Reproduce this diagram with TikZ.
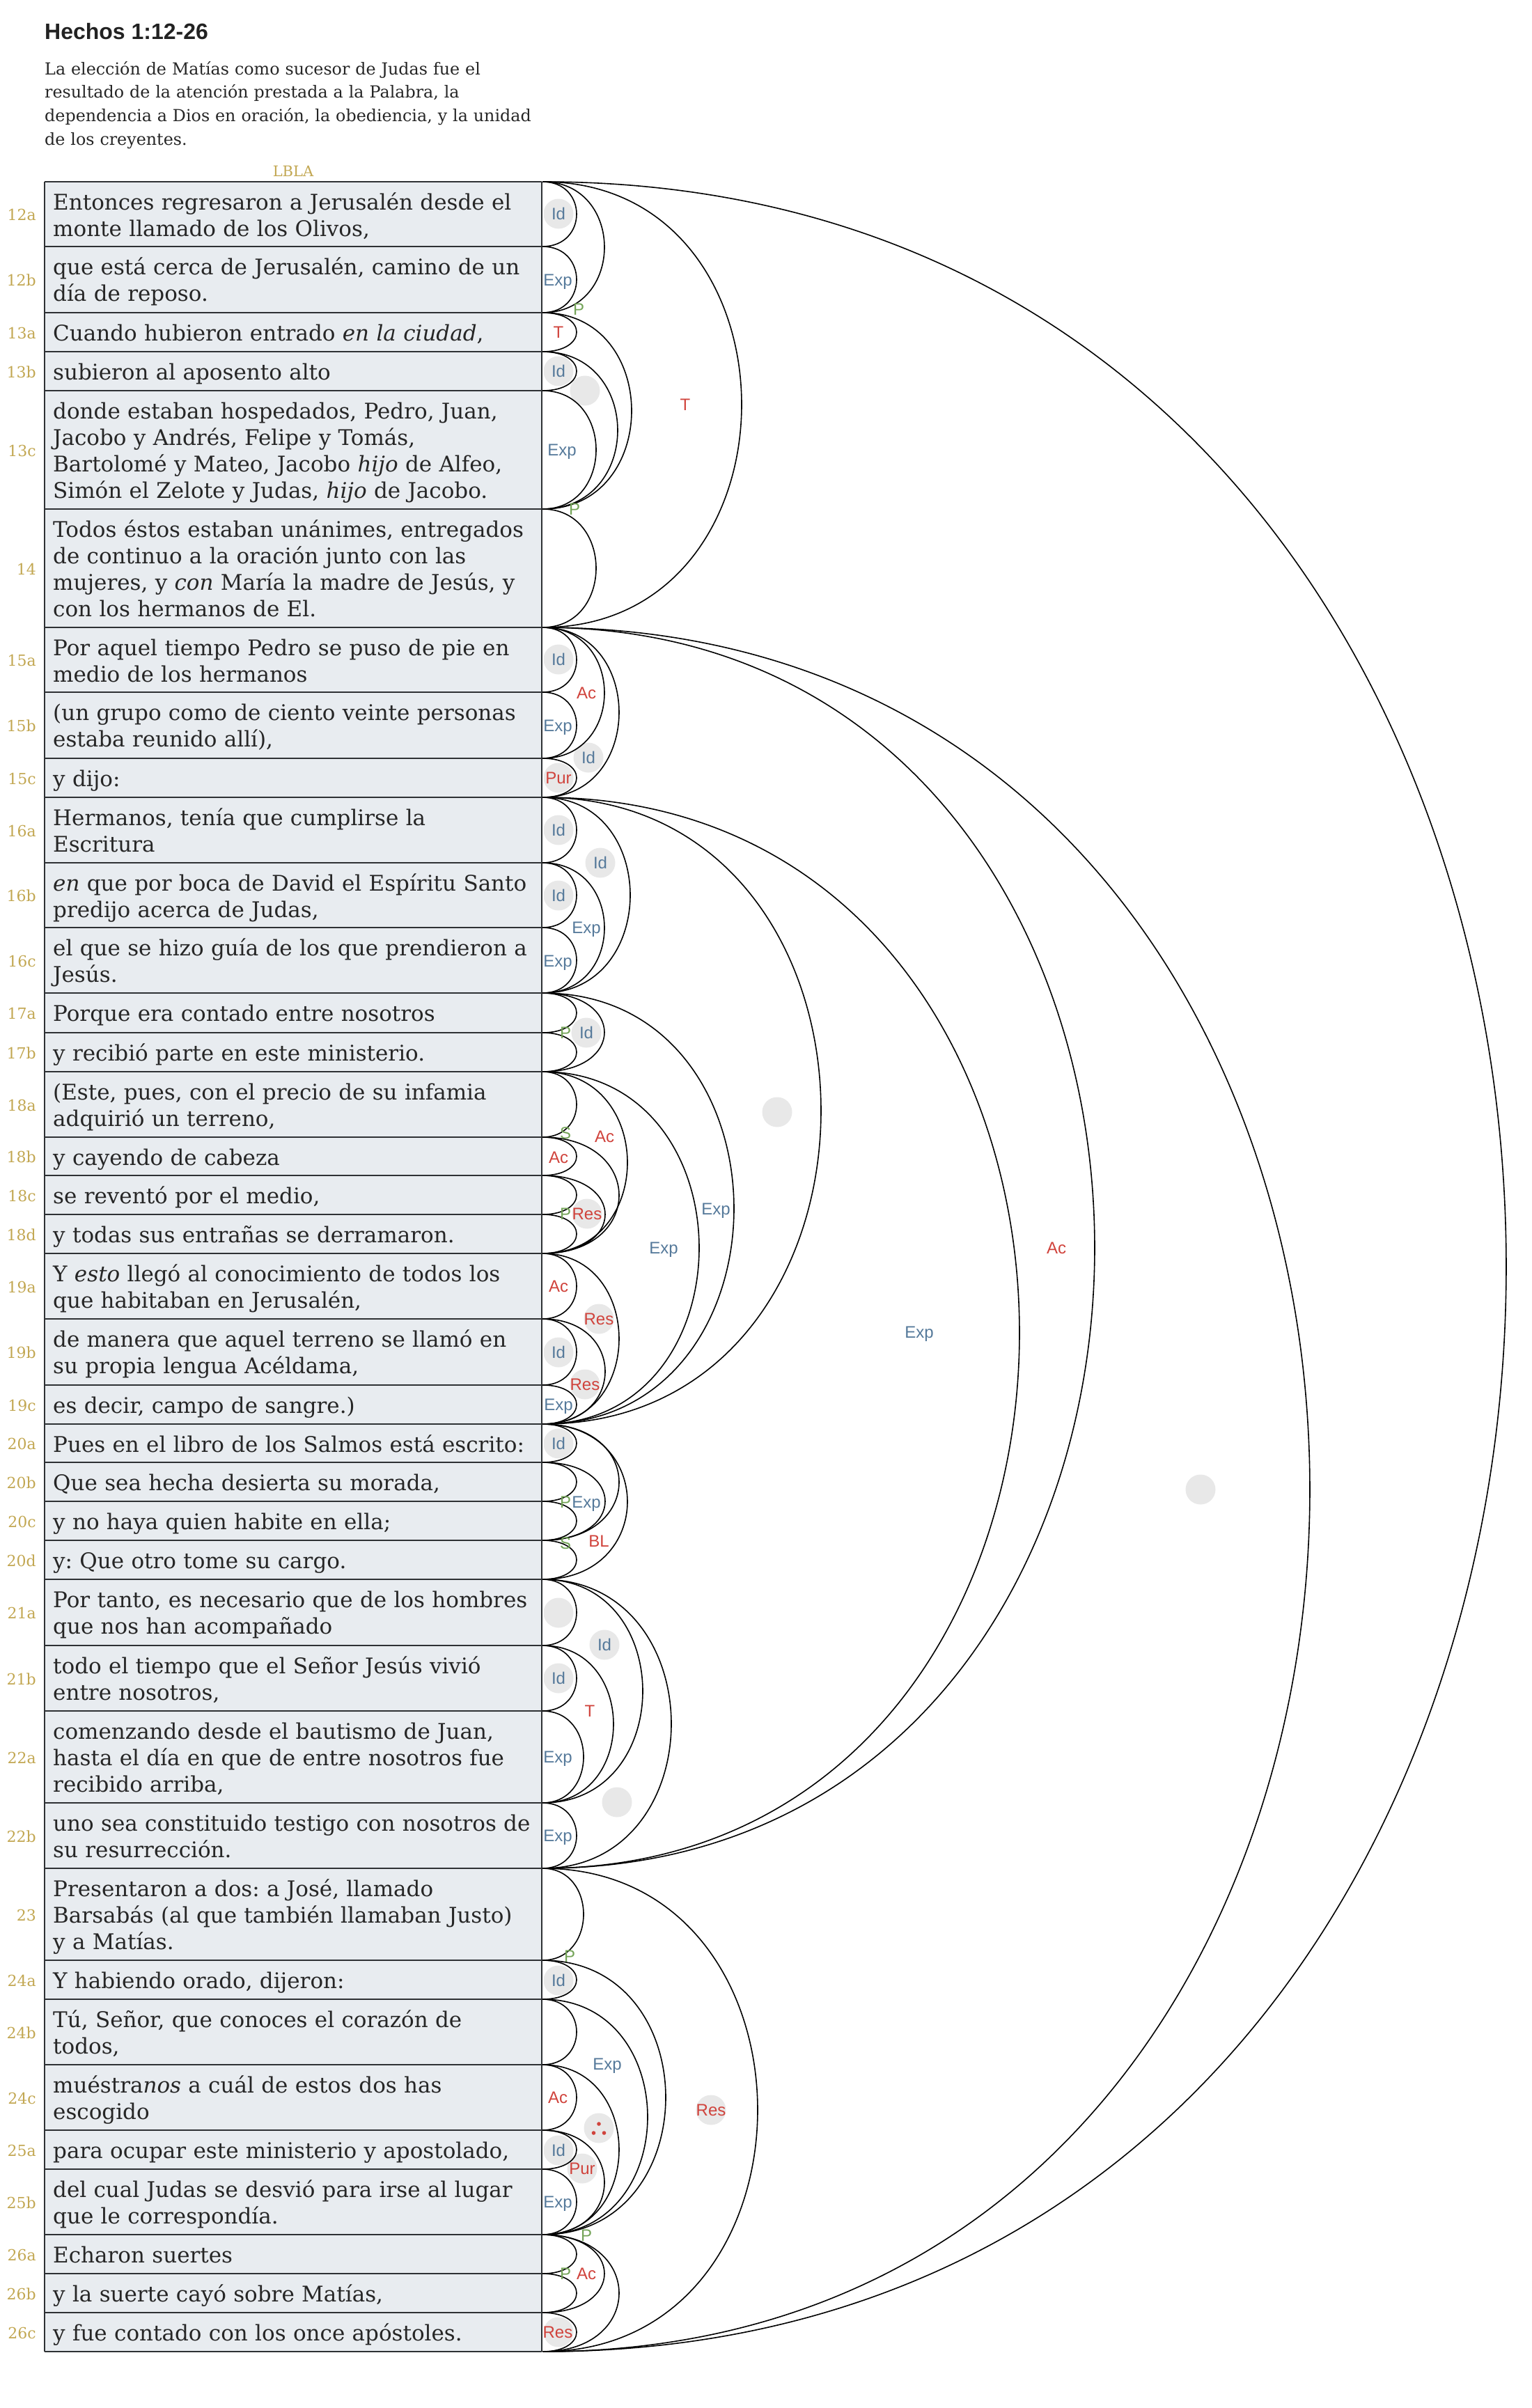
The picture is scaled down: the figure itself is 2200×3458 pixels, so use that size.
\documentclass[tikz,border=0pt]{standalone}
\usepackage{fontspec}
\setmainfont{DejaVu Serif}
\newfontfamily\labfont{Liberation Sans}
\newfontfamily\serfont{DejaVu Serif}
\frenchspacing
\definecolor{cFill}{HTML}{E8ECF0}
\definecolor{cLine}{HTML}{2E3134}
\definecolor{cText}{HTML}{262626}
\definecolor{cHead}{HTML}{222222}
\definecolor{cGold}{HTML}{C2A752}
\definecolor{cBlue}{HTML}{55799A}
\definecolor{cRed}{HTML}{D0433C}
\definecolor{cGreen}{HTML}{74A458}
\definecolor{cGrey}{HTML}{E8E8E8}
\begin{document}
\begin{tikzpicture}[x=1pt,y=-1pt,
  rowtext/.style={anchor=base west, inner sep=0pt, text width=740pt, align=left, text=cText, font=\fontsize{31}{38}\selectfont},
  vnum/.style={anchor=base east, inner sep=0pt, text=cGold, font=\serfont\fontsize{22}{24}\selectfont},
  lab/.style={inner sep=0pt, anchor=center, text height=17pt, text depth=0pt, font=\labfont\fontsize{24}{25}\selectfont},
  labB/.style={lab, text=cBlue},
  labR/.style={lab, text=cRed},
  labG/.style={lab, text=cGreen},
  gc/.style={fill=cGrey, draw=none},
  arcline/.style={draw=black, line width=1.6pt},
  tline/.style={draw=cLine, line width=2.2pt}]
\useasboundingbox (0,0) rectangle (2200,3458);

% header
\node[anchor=base west, inner sep=0pt, text=cHead, font=\labfont\bfseries\fontsize{32}{35}\selectfont] (title) at (64,57) {Hechos 1:12-26};
\node[anchor=base west, inner sep=0pt, text width=800pt, align=left, text=cText, font=\fontsize{23.8}{33.8}\selectfont] (desc) at (64,107) {La elección de Matías como sucesor de Judas fue el\\resultado de la atención prestada a la Palabra, la\\dependencia a Dios en oración, la obediencia, y la unidad\\de los creyentes.};
\node[anchor=base, inner sep=0pt, text=cGold, font=\fontsize{21}{23}\selectfont] (lbla) at (421,253) {LBLA};

% table
\fill[cFill] (64,261) rectangle (778,3377);
\foreach \y [count=\i from 0] in {261,354,449,505,561,731,901,994,1089,1145,1239,1332,1426,1483,1539,1633,1688,1744,1800,1894,1989,2045,2100,2156,2212,2268,2363,2457,2589,2683,2815,2871,2965,3059,3115,3209,3265,3321,3377}{
  \coordinate (b\i) at (779,\y);
  \draw[tline] (64,\y) -- (778,\y);
}
\draw[tline] (64,261) -- (64,3377);
\draw[tline] (778,261) -- (778,3377);

% row texts
\node[rowtext] (t12a) at (76,301) {Entonces regresaron a Jerusalén desde el\\monte llamado de los Olivos,};
\node[rowtext] (t12b) at (76,394) {que está cerca de Jerusalén, camino de un\\día de reposo.};
\node[rowtext] (t13a) at (76,489) {Cuando hubieron entrado \textit{en la ciudad},};
\node[rowtext] (t13b) at (76,545) {subieron al aposento alto};
\node[rowtext] (t13c) at (76,601) {donde estaban hospedados, Pedro, Juan,\\Jacobo y Andrés, Felipe y Tomás,\\Bartolomé y Mateo, Jacobo \textit{hijo} de Alfeo,\\Simón el Zelote y Judas, \textit{hijo} de Jacobo.};
\node[rowtext] (t14) at (76,771) {Todos éstos estaban unánimes, entregados\\de continuo a la oración junto con las\\mujeres, y \textit{con} María la madre de Jesús, y\\con los hermanos de El.};
\node[rowtext] (t15a) at (76,941) {Por aquel tiempo Pedro se puso de pie en\\medio de los hermanos};
\node[rowtext] (t15b) at (76,1034) {(un grupo como de ciento veinte personas\\estaba reunido allí),};
\node[rowtext] (t15c) at (76,1129) {y dijo:};
\node[rowtext] (t16a) at (76,1185) {Hermanos, tenía que cumplirse la\\Escritura};
\node[rowtext] (t16b) at (76,1279) {\textit{en} que por boca de David el Espíritu Santo\\predijo acerca de Judas,};
\node[rowtext] (t16c) at (76,1372) {el que se hizo guía de los que prendieron a\\Jesús.};
\node[rowtext] (t17a) at (76,1466) {Porque era contado entre nosotros};
\node[rowtext] (t17b) at (76,1523) {y recibió parte en este ministerio.};
\node[rowtext] (t18a) at (76,1579) {(Este, pues, con el precio de su infamia\\adquirió un terreno,};
\node[rowtext] (t18b) at (76,1673) {y cayendo de cabeza};
\node[rowtext] (t18c) at (76,1728) {se reventó por el medio,};
\node[rowtext] (t18d) at (76,1784) {y todas sus entrañas se derramaron.};
\node[rowtext] (t19a) at (76,1840) {Y \textit{esto} llegó al conocimiento de todos los\\que habitaban en Jerusalén,};
\node[rowtext] (t19b) at (76,1934) {de manera que aquel terreno se llamó en\\su propia lengua Acéldama,};
\node[rowtext] (t19c) at (76,2029) {es decir, campo de sangre.)};
\node[rowtext] (t20a) at (76,2085) {Pues en el libro de los Salmos está escrito:};
\node[rowtext] (t20b) at (76,2140) {Que sea hecha desierta su morada,};
\node[rowtext] (t20c) at (76,2196) {y no haya quien habite en ella;};
\node[rowtext] (t20d) at (76,2252) {y: Que otro tome su cargo.};
\node[rowtext] (t21a) at (76,2308) {Por tanto, es necesario que de los hombres\\que nos han acompañado};
\node[rowtext] (t21b) at (76,2403) {todo el tiempo que el Señor Jesús vivió\\entre nosotros,};
\node[rowtext] (t22a) at (76,2497) {comenzando desde el bautismo de Juan,\\hasta el día en que de entre nosotros fue\\recibido arriba,};
\node[rowtext] (t22b) at (76,2629) {uno sea constituido testigo con nosotros de\\su resurrección.};
\node[rowtext] (t23) at (76,2723) {Presentaron a dos: a José, llamado\\Barsabás (al que también llamaban Justo)\\y a Matías.};
\node[rowtext] (t24a) at (76,2855) {Y habiendo orado, dijeron:};
\node[rowtext] (t24b) at (76,2911) {Tú, Señor, que conoces el corazón de\\todos,};
\node[rowtext] (t24c) at (76,3005) {muéstra\textit{nos} a cuál de estos dos has\\escogido};
\node[rowtext] (t25a) at (76,3099) {para ocupar este ministerio y apostolado,};
\node[rowtext] (t25b) at (76,3155) {del cual Judas se desvió para irse al lugar\\que le correspondía.};
\node[rowtext] (t26a) at (76,3249) {Echaron suertes};
\node[rowtext] (t26b) at (76,3305) {y la suerte cayó sobre Matías,};
\node[rowtext] (t26c) at (76,3361) {y fue contado con los once apóstoles.};

% verse numbers
\foreach \v/\y in {12a/316.5,12b/410.5,13a/486,13b/542,13c/655,14/825,15a/956.5,15b/1050.5,15c/1126,16a/1201,16b/1294.5,16c/1388,17a/1463.5,17b/1520,18a/1595,18b/1669.5,18c/1725,18d/1781,19a/1856,19b/1950.5,19c/2026,20a/2081.5,20b/2137,20c/2193,20d/2249,21a/2324.5,21b/2419,22a/2532,22b/2645,23/2758,24a/2852,24b/2927,24c/3021,25a/3096,25b/3171,26a/3246,26b/3302,26c/3358}{
  \node[vnum] (v\v) at (52,\y) {\v};
}

% grey circles (behind arcs)
\foreach \x/\y in {802/307,802/533,840/561,802/947,845/1088,802/1117,802/1192,862/1239,802/1286,842/1483,1116/1597,843/1743,860/1894,802/1942,840/1988,802/2073,802/2316,868/2362,802/2410,886/2588,802/2844,1724/2139,1021/3030,860/3056,802/3088,836/3114,802/3349}{
  \fill[gc] (\x,\y) circle[radius=21.5pt];
}

% arcs
\foreach \f/\t/\w in {0/1/49,1/2/49,2/3/49,3/4/49,4/5/77,5/6/77,6/7/49,7/8/49,8/9/49,9/10/49,10/11/49,11/12/49,12/13/49,13/14/49,14/15/49,15/16/49,16/17/49,17/18/49,18/19/49,19/20/49,20/21/49,21/22/49,22/23/49,23/24/49,24/25/49,25/26/49,26/27/49,27/28/59,28/29/49,29/30/59,30/31/49,31/32/49,32/33/49,33/34/49,34/35/49,35/36/49,36/37/49,37/38/49,
  0/2/89,3/5/108,2/5/128,0/6/286,6/8/89,6/9/110,10/12/89,9/12/126,12/14/89,16/18/90,15/18/110,14/18/122,19/21/90,18/21/110,14/21/225,12/21/275,9/21/400,22/24/90,21/24/110,21/25/122,26/28/102,25/28/144,25/29/185,9/29/685,6/29/793,33/35/89,32/35/110,31/35/151,30/35/177,35/37/89,35/38/110,29/38/309,6/38/1102,0/38/1384}{
  \draw[arcline] (b\f) .. controls +({\w*1.3333},0) and +({\w*1.3333},0) .. (b\t);
}

% red dots
\fill[cRed] (860,3050) circle[radius=2.8pt];
\fill[cRed] (852.5,3063) circle[radius=2.8pt];
\fill[cRed] (867.5,3063) circle[radius=2.8pt];

% leaf labels
\node[labB] (a12a) at (802,307) {Id};
\node[labB] (a12b) at (801,402) {Exp};
\node[labR] (a13a) at (802,477) {T};
\node[labB] (a13b) at (802,533) {Id};
\node[labB] (a13c) at (807,646) {Exp};
\node[labB] (a15a) at (802,947) {Id};
\node[labB] (a15b) at (801,1042) {Exp};
\node[labR] (a15c) at (802,1117) {Pur};
\node[labB] (a16a) at (802,1192) {Id};
\node[labB] (a16b) at (802,1286) {Id};
\node[labB] (a16c) at (801,1380) {Exp};
\node[labR] (a18b) at (802,1662) {Ac};
\node[labR] (a19a) at (802,1847) {Ac};
\node[labB] (a19b) at (802,1942) {Id};
\node[labB] (a19c) at (802,2017) {Exp};
\node[labB] (a20a) at (802,2073) {Id};
\node[labB] (a21b) at (802,2410) {Id};
\node[labB] (a22a) at (801,2523) {Exp};
\node[labB] (a22b) at (801,2636) {Exp};
\node[labB] (a24a) at (802,2844) {Id};
\node[labR] (a24c) at (801,3012) {Ac};
\node[labB] (a25a) at (802,3088) {Id};
\node[labB] (a25b) at (801,3162) {Exp};
\node[labR] (a26c) at (801,3349) {Res};

% group labels
\node[labG] (g1) at (831,444) {P};
\node[labG] (g2) at (825,731) {P};
\node[labR] (g3) at (984,581) {T};
\node[labR] (g4) at (842,995) {Ac};
\node[labB] (g5) at (845,1088) {Id};
\node[labB] (g6) at (862,1239) {Id};
\node[labB] (g7) at (842,1332) {Exp};
\node[labG] (g8) at (812,1483) {P};
\node[labB] (g9) at (842,1483) {Id};
\node[labG] (g10) at (812,1627) {S};
\node[labR] (g11) at (868,1632) {Ac};
\node[labG] (g12) at (812,1743) {P};
\node[labR] (g13) at (843,1743) {Res};
\node[labB] (g14) at (1028,1736) {Exp};
\node[labB] (g15) at (953,1792) {Exp};
\node[labR] (g16) at (1517,1792) {Ac};
\node[labR] (g17) at (860,1894) {Res};
\node[labR] (g18) at (840,1988) {Res};
\node[labB] (g19) at (1320,1913) {Exp};
\node[labG] (g20) at (812,2157) {P};
\node[labB] (g21) at (842,2157) {Exp};
\node[labG] (g22) at (812,2216) {S};
\node[labR] (g23) at (860,2213) {BL};
\node[labB] (g24) at (868,2362) {Id};
\node[labR] (g25) at (847,2457) {T};
\node[labG] (g26) at (818,2809) {P};
\node[labB] (g27) at (872,2964) {Exp};
\node[labR] (g28) at (1021,3030) {Res};
\node[labR] (g29) at (836,3114) {Pur};
\node[labG] (g30) at (842,3210) {P};
\node[labG] (g31) at (812,3265) {P};
\node[labR] (g32) at (842,3265) {Ac};
\end{tikzpicture}
\end{document}
